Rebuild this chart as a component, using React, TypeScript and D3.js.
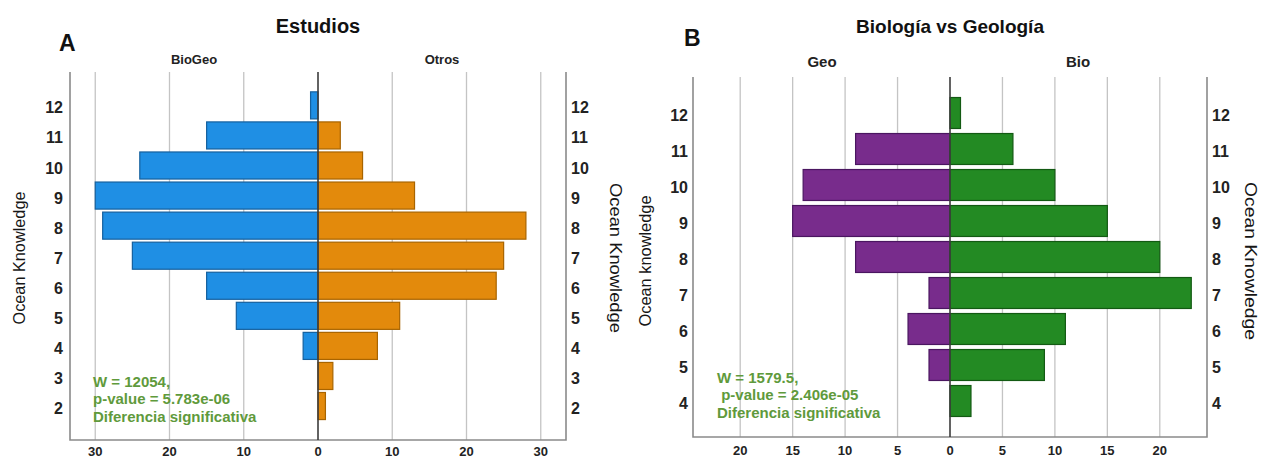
import React, { useEffect, useRef } from "react";
import * as d3 from "d3";

// Panel A: Estudios
const estudiosCats = [12, 11, 10, 9, 8, 7, 6, 5, 4, 3, 2];
const bioGeoValues = [1, 15, 24, 30, 29, 25, 15, 11, 2, 0, 0];
const otrosValues = [0, 3, 6, 13, 28, 25, 24, 11, 8, 2, 1];
const estudiosTicks = [-30, -20, -10, 0, 10, 20, 30];
const estudiosNote = ["W = 12054,", "p-value = 5.783e-06", "Diferencia significativa"];

// Panel B: Biología vs Geología
const bioGeoCats = [12, 11, 10, 9, 8, 7, 6, 5, 4];
const geoValues = [0, 9, 14, 15, 9, 2, 4, 2, 0];
const bioValues = [1, 6, 10, 15, 20, 23, 11, 9, 2];
const bioGeoTicks = [-20, -15, -10, -5, 0, 5, 10, 15, 20];
const bioGeoNote = ["W = 1579.5,", " p-value = 2.406e-05", "Diferencia significativa"];

const FONT = "'Liberation Sans', Arial, sans-serif";

const panels = [
  {
    letter: "A",
    letterX: 59,
    letterY: 51,
    title: "Estudios",
    left: 70,
    right: 566,
    top: 72,
    bottom: 440,
    xMax: 33.4,
    yDomain: [0.87, 13.11],
    barFrac: 0.9,
    cats: estudiosCats,
    leftValues: bioGeoValues,
    rightValues: otrosValues,
    ticks: estudiosTicks,
    leftName: "BioGeo",
    rightName: "Otros",
    nameY: 64,
    nameSize: "13px",
    leftNameX: 194,
    rightNameX: 442,
    leftFill: "#1f8fe4",
    leftStroke: "#15609e",
    rightFill: "#e38a0c",
    rightStroke: "#a86400",
    leftTitle: "Ocean Knowledge",
    leftTitleX: 25,
    leftTitleLen: 133,
    rightTitleX: 610,
    rightTitleLen: 150,
    titleCY: 258,
    labelGapL: 7,
    tickY: 456,
    note: estudiosNote,
    noteX: [93, 93, 93],
    noteY: 386.5,
  },
  {
    letter: "B",
    letterX: 684,
    letterY: 46,
    title: "Biología vs Geología",
    left: 693,
    right: 1207,
    top: 77,
    bottom: 437,
    xMax: 24.5,
    yDomain: [3, 13],
    barFrac: 0.86,
    cats: bioGeoCats,
    leftValues: geoValues,
    rightValues: bioValues,
    ticks: bioGeoTicks,
    leftName: "Geo",
    rightName: "Bio",
    nameY: 67,
    nameSize: "15px",
    leftNameX: 822,
    rightNameX: 1078,
    leftFill: "#782c8c",
    leftStroke: "#4a1660",
    rightFill: "#238a23",
    rightStroke: "#135a13",
    leftTitle: "Ocean knowledge",
    leftTitleX: 651,
    leftTitleLen: 131,
    rightTitleX: 1245,
    rightTitleLen: 158,
    titleCY: 261,
    labelGapL: 5,
    tickY: 455,
    note: bioGeoNote,
    noteX: [717, 717, 717],
    noteY: 382.7,
  },
];

const App = () => {
  const ref = useRef<SVGSVGElement | null>(null);

  useEffect(() => {
    const svg = d3.select(ref.current);
    svg.selectAll("*").remove();

    panels.forEach((p) => {
      const g = svg.append("g");
      const x = d3.scaleLinear().domain([-p.xMax, p.xMax]).range([p.left, p.right]);
      const y = d3.scaleLinear().domain(p.yDomain).range([p.bottom, p.top]);
      const barH = (y(0) - y(1)) * p.barFrac;

      // gridlines
      g.selectAll(".grid")
        .data(p.ticks.filter((t) => t !== 0))
        .join("line")
        .attr("x1", (d) => x(d))
        .attr("x2", (d) => x(d))
        .attr("y1", p.top)
        .attr("y2", p.bottom)
        .attr("stroke", "#c4c4c4")
        .attr("stroke-width", 1.3);

      // frame: left, bottom, right
      g.append("path")
        .attr("d", `M${p.left},${p.top}V${p.bottom}H${p.right}V${p.top}`)
        .attr("fill", "none")
        .attr("stroke", "#8a8a8a")
        .attr("stroke-width", 1.6);

      // left bars
      g.selectAll(".lbar")
        .data(p.cats.map((c, i) => ({ c, v: p.leftValues[i] })).filter((d) => d.v > 0))
        .join("rect")
        .attr("x", (d) => x(-d.v))
        .attr("width", (d) => x(0) - x(-d.v))
        .attr("y", (d) => y(d.c) - barH / 2)
        .attr("height", barH)
        .attr("fill", p.leftFill)
        .attr("stroke", p.leftStroke)
        .attr("stroke-width", 1.2);

      // right bars
      g.selectAll(".rbar")
        .data(p.cats.map((c, i) => ({ c, v: p.rightValues[i] })).filter((d) => d.v > 0))
        .join("rect")
        .attr("x", x(0))
        .attr("width", (d) => x(d.v) - x(0))
        .attr("y", (d) => y(d.c) - barH / 2)
        .attr("height", barH)
        .attr("fill", p.rightFill)
        .attr("stroke", p.rightStroke)
        .attr("stroke-width", 1.2);

      // zero line
      g.append("line")
        .attr("x1", x(0))
        .attr("x2", x(0))
        .attr("y1", p.top)
        .attr("y2", p.bottom)
        .attr("stroke", "#3c3c3c")
        .attr("stroke-width", 1.6);

      // category labels on both sides
      const catText = (anchor: string, xx: number) =>
        g.append("g")
          .selectAll("text")
          .data(p.cats)
          .join("text")
          .attr("x", xx)
          .attr("y", (d) => y(d) + 8)
          .attr("text-anchor", anchor)
          .style("font-family", FONT)
          .style("font-size", "16px")
          .style("font-weight", "bold")
          .style("fill", "#222")
          .text((d) => d);
      catText("end", p.left - p.labelGapL);
      catText("start", p.right + 5);

      // bottom tick labels
      g.append("g")
        .selectAll("text")
        .data(p.ticks)
        .join("text")
        .attr("x", (d) => x(d))
        .attr("y", p.tickY)
        .attr("text-anchor", "middle")
        .style("font-family", FONT)
        .style("font-size", "13px")
        .style("font-weight", "bold")
        .style("fill", "#222")
        .text((d) => Math.abs(d));

      // group names
      [
        [p.leftNameX, p.leftName],
        [p.rightNameX, p.rightName],
      ].forEach(([nx, name]) => {
        g.append("text")
          .attr("x", nx)
          .attr("y", p.nameY)
          .attr("text-anchor", "middle")
          .style("font-family", FONT)
          .style("font-size", p.nameSize)
          .style("font-weight", "bold")
          .style("fill", "#222")
          .text(name as string);
      });

      // title and letter
      g.append("text")
        .attr("x", x(0))
        .attr("y", 33)
        .attr("text-anchor", "middle")
        .style("font-family", FONT)
        .style("font-size", p.letter === "A" ? "20px" : "19px")
        .style("font-weight", "bold")
        .style("fill", "#111")
        .text(p.title);
      g.append("text")
        .attr("x", p.letterX)
        .attr("y", p.letterY)
        .style("font-family", FONT)
        .style("font-size", "23px")
        .style("font-weight", "bold")
        .style("fill", "#111")
        .text(p.letter);

      // axis titles
      g.append("text")
        .attr("transform", `translate(${p.leftTitleX},${p.titleCY}) rotate(-90)`)
        .attr("text-anchor", "middle")
        .attr("textLength", p.leftTitleLen)
        .attr("lengthAdjust", "spacingAndGlyphs")
        .style("font-family", FONT)
        .style("font-size", "17px")
        .style("fill", "#161616")
        .text(p.leftTitle);
      g.append("text")
        .attr("transform", `translate(${p.rightTitleX},${p.titleCY}) rotate(90)`)
        .attr("text-anchor", "middle")
        .attr("textLength", p.rightTitleLen)
        .attr("lengthAdjust", "spacingAndGlyphs")
        .style("font-family", FONT)
        .style("font-size", "17px")
        .style("fill", "#161616")
        .text("Ocean Knowledge");

      // test annotation
      g.append("g")
        .selectAll("text")
        .data(p.note)
        .join("text")
        .attr("x", (d, i) => p.noteX[i])
        .attr("y", (d, i) => p.noteY + i * 17.6)
        .attr("xml:space", "preserve")
        .style("white-space", "pre")
        .style("font-family", FONT)
        .style("font-size", "15px")
        .style("font-weight", "bold")
        .style("fill", "#5f9a3c")
        .text((d) => d);
    });
  }, []);

  return (
    <svg
      ref={ref}
      width={1262}
      height={459}
      style={{ position: "absolute", left: 0, top: 0, background: "#fff" }}
    />
  );
};

export default App;
